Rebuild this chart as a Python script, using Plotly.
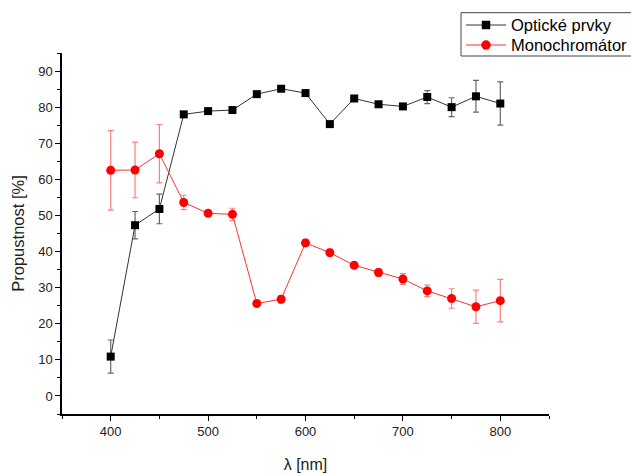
import plotly.graph_objects as go

wavelength = [400, 425, 450, 475, 500, 525, 550, 575, 600, 625, 650, 675, 700, 725, 750, 775, 800]

opticke_prvky = [10.9, 47.3, 51.8, 78.0, 78.9, 79.2, 83.6, 85.1, 83.9, 75.3, 82.4, 80.8, 80.2, 82.8, 80.0, 83.0, 81.0]
opticke_err = [4.6, 3.8, 4.1, 0.6, 0.5, 0.5, 0.5, 0.5, 0.5, 0.5, 0.5, 0.5, 0.5, 1.8, 2.6, 4.4, 6.0]

monochromator = [62.5, 62.6, 67.1, 53.6, 50.6, 50.3, 25.6, 26.8, 42.4, 39.7, 36.2, 34.2, 32.4, 29.1, 27.0, 24.7, 26.4]
mono_err = [11.0, 7.7, 8.1, 2.0, 0.6, 1.7, 0.6, 1.0, 1.0, 1.0, 0.6, 1.0, 1.5, 1.6, 2.7, 4.6, 5.9]

series_names = ["Optické prvky", "Monochromátor"]
x_ticks = [400, 500, 600, 700, 800]
y_ticks = [0, 10, 20, 30, 40, 50, 60, 70, 80, 90]

line_colors = ["#333333", "#ff3030"]
marker_colors = ["black", "red"]

fig = go.Figure()
fig.add_trace(go.Scatter(
    x=wavelength, y=opticke_prvky, name=series_names[0], mode="lines+markers",
    line=dict(color=line_colors[0], width=1),
    marker=dict(symbol="square", size=8, color=marker_colors[0]),
    error_y=dict(type="data", array=opticke_err, visible=True, color="rgba(0,0,0,0.6)", thickness=1.2, width=3),
))
fig.add_trace(go.Scatter(
    x=wavelength, y=monochromator, name=series_names[1], mode="lines+markers",
    line=dict(color=line_colors[1], width=1),
    marker=dict(symbol="circle", size=9, color=marker_colors[1]),
    error_y=dict(type="data", array=mono_err, visible=True, color="rgba(255,40,40,0.6)", thickness=1.2, width=3),
))

# plot area in pixels (for placing the legend box in paper coordinates)
L, R, T, B = 62, 549, 53, 414
def px(xp):
    return (xp - L) / (R - L)
def py(yp):
    return (B - yp) / (B - T)

shapes = [dict(type="rect", xref="paper", yref="paper", x0=px(461), x1=px(650), y0=py(56), y1=py(12.7),
               line=dict(color="#444444", width=1), fillcolor="white", layer="above")]
annotations = []
rows_y = [25, 45]
for i, name in enumerate(series_names):
    yy = rows_y[i]
    shapes.append(dict(type="line", xref="paper", yref="paper", x0=px(466), x1=px(506), y0=py(yy), y1=py(yy),
                       line=dict(color=line_colors[i], width=1), layer="above"))
    r = 4 if i == 0 else 4.5
    shapes.append(dict(type="rect" if i == 0 else "circle", xref="paper", yref="paper",
                       x0=px(486 - r), x1=px(486 + r), y0=py(yy + r), y1=py(yy - r),
                       line=dict(color=marker_colors[i], width=0.5), fillcolor=marker_colors[i], layer="above"))
    annotations.append(dict(text=name, xref="paper", yref="paper", x=px(509), y=py(yy), xanchor="left",
                            yanchor="middle", showarrow=False,
                            font=dict(family="Liberation Sans, Arial", size=16.5, color="black")))

axis_font = dict(family="Liberation Sans, Arial", size=13, color="#222222")
fig.update_layout(
    width=631, height=474,
    margin=dict(l=L, r=631 - R, t=T, b=474 - B, autoexpand=False),
    plot_bgcolor="white", paper_bgcolor="white",
    font=dict(family="Liberation Sans, Arial", size=13, color="#222222"),
    showlegend=False,
    shapes=shapes,
    annotations=annotations,
    xaxis=dict(
        range=[350, 850], tickvals=x_ticks, showline=True, linecolor="black", linewidth=1.5,
        ticks="outside", ticklen=5, tickcolor="black", tickwidth=1.2, showgrid=False, zeroline=False,
        tickfont=axis_font,
        minor=dict(dtick=50, tick0=350, ticks="outside", ticklen=3, tickcolor="black", showgrid=False),
        title=dict(text="λ [nm]", font=dict(size=16, color="#222222"), standoff=20),
    ),
    yaxis=dict(
        range=[-5, 95], tickvals=y_ticks, showline=True, linecolor="black", linewidth=1.5,
        ticks="outside", ticklen=5, tickcolor="black", tickwidth=1.2, showgrid=False, zeroline=False,
        tickfont=axis_font,
        minor=dict(dtick=5, tick0=0, ticks="outside", ticklen=3, tickcolor="black", showgrid=False),
        title=dict(text="Propustnost [%]", font=dict(size=16.5, color="#222222"), standoff=9),
    ),
)

fig.write_html("out.html")
